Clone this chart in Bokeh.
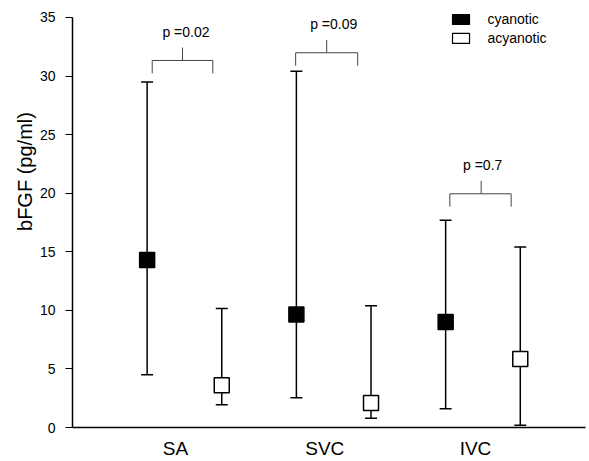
import math
from bokeh.plotting import figure
from bokeh.models import ColumnDataSource, Whisker, TeeHead, FixedTicker, Range1d, Label
from bokeh.core.properties import value
from bokeh.embed import file_html
from bokeh.resources import INLINE

# ---- data ----
sites = ["SA", "SVC", "IVC"]
site_pos = [1, 2, 3]
series_names = ["cyanotic", "acyanotic"]

cyan_median = [14.3, 9.65, 9.0]
cyan_low = [4.5, 2.55, 1.6]
cyan_high = [29.5, 30.4, 17.7]

acy_median = [3.6, 2.1, 5.85]
acy_low = [1.95, 0.8, 0.2]
acy_high = [10.15, 10.4, 15.4]

p_labels = ["p =0.02", "p =0.09", "p =0.7"]
bracket_y = [31.33, 31.99, 19.95]

y_ticks = [0, 5, 10, 15, 20, 25, 30, 35]
y_title = "bFGF (pg/ml)"

FONT = "Liberation Sans"
OFF = 0.25

p = figure(width=589, height=461, output_backend="svg", toolbar_location=None,
           x_range=Range1d(0.25, 3.687), y_range=Range1d(0, 36.45),
           min_border_left=72, min_border_right=4, min_border_top=0, min_border_bottom=34)
p.grid.visible = False
p.outline_line_color = None
p.background_fill_color = "white"
p.border_fill_color = "white"

cx = [s - OFF for s in site_pos]
ax = [s + OFF for s in site_pos]

src_c = ColumnDataSource(dict(x=cx, m=cyan_median, lo=cyan_low, hi=cyan_high))
src_a = ColumnDataSource(dict(x=ax, m=acy_median, lo=acy_low, hi=acy_high))

for src in (src_c, src_a):
    w = Whisker(base="x", lower="lo", upper="hi", source=src, line_width=1.5, line_color="black",
                upper_head=TeeHead(size=12, line_width=1.5, line_color="black"),
                lower_head=TeeHead(size=12, line_width=1.5, line_color="black"),
                level="underlay")
    p.add_layout(w)

p.scatter("x", "m", source=src_c, marker="square", size=15, fill_color="black",
          line_color="black", line_width=1.5)
p.scatter("x", "m", source=src_a, marker="square", size=15, fill_color="white",
          line_color="black", line_width=1.5)

# significance brackets
left_off = [-0.216, -0.255, -0.222]
right_off = [0.19, 0.161, 0.189]
tick_off = [-0.013, -0.047, -0.012]
text_off = [0.01, 0.0, -0.002]
x0s, y0s, x1s, y1s = [], [], [], []
for i, s in enumerate(site_pos):
    yb = bracket_y[i]
    l = s + left_off[i]
    r = s + right_off[i]
    t = s + tick_off[i]
    x0s += [l, l, r, t]
    y0s += [yb, yb - 1.1, yb - 1.1, yb]
    x1s += [r, l, r, t]
    y1s += [yb, yb, yb, yb + 1.1]
p.segment(x0s, y0s, x1s, y1s, line_color="#444444", line_width=1)
p.text([s + o for s, o in zip(site_pos, text_off)], [b + 2.45 for b in bracket_y], text=p_labels,
       text_align="center", text_baseline="middle", text_font=value(FONT),
       text_font_size="14px", text_color="black")

# legend
p.rect([2.853, 2.853], [34.83, 33.21], width=17, height=10, width_units="screen",
       height_units="screen", fill_color=["black", "white"], line_color="black", line_width=1.2)
p.text([3.03, 3.03], [34.83, 33.21], text=series_names, text_align="left",
       text_baseline="middle", text_font=value(FONT), text_font_size="14px", text_color="black")

# axes
p.yaxis.bounds = (0, 35)
p.yaxis.ticker = FixedTicker(ticks=y_ticks)
p.yaxis.minor_tick_line_color = None
p.yaxis.major_tick_in = 0
p.yaxis.major_tick_out = 7
p.yaxis.major_label_standoff = 10
p.yaxis.major_label_text_font = FONT
p.yaxis.major_label_text_font_size = "14px"
p.yaxis.major_label_text_color = "black"
p.yaxis.axis_line_width = 1.5
p.yaxis.major_tick_line_width = 1.2

# y-axis title (placed higher than centre, as in the reference), in the left side panel
p.add_layout(Label(x=-0.065, y=21.85, text=y_title,
                   angle=math.pi / 2, text_align="center", text_baseline="middle",
                   text_font=FONT, text_font_size="20px", text_color="black"), "left")

label_ticks = [0.94, 1.94, 2.95]
p.xaxis.ticker = FixedTicker(ticks=label_ticks)
p.xaxis.major_label_overrides = {t: s for t, s in zip(label_ticks, sites)}
p.xaxis.minor_tick_line_color = None
p.xaxis.major_tick_line_color = None
p.xaxis.major_tick_in = 0
p.xaxis.major_tick_out = 0
p.xaxis.major_label_standoff = 10
p.xaxis.major_label_text_font = FONT
p.xaxis.major_label_text_font_size = "19px"
p.xaxis.major_label_text_color = "black"
p.xaxis.axis_line_width = 1.5

open("out.html", "w").write(file_html(p, INLINE))
